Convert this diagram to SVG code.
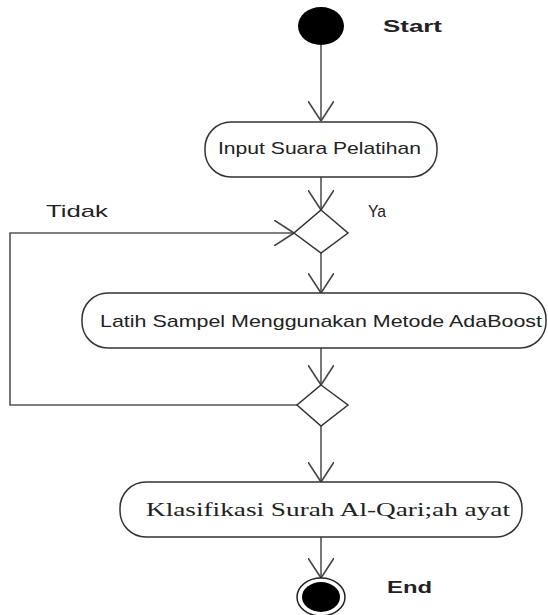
<svg xmlns="http://www.w3.org/2000/svg" width="548" height="615" viewBox="0 0 548 615">
<style>
.node{fill:#fff;stroke:#333;stroke-width:1.5}
.conn{fill:none;stroke:#555;stroke-width:1.6}
.lbl{font-family:"Liberation Sans",Arial,sans-serif;font-size:17px;fill:#222}
.bold{font-weight:bold}
.serif{font-family:"Liberation Serif","Times New Roman",serif;font-size:19px;fill:#222}
</style>
<defs>
<marker id="open" viewBox="0 0 20 26" refX="20" refY="13" markerWidth="20" markerHeight="26" markerUnits="userSpaceOnUse" orient="auto">
<path d="M0,0 L20,13 L0,26" fill="none" stroke="#444" stroke-width="1.6"/>
</marker>
</defs>
<g id="connectors">
<line class="conn" x1="321" y1="45" x2="321" y2="121" marker-end="url(#open)"/>
<line class="conn" x1="321" y1="177" x2="321" y2="210" marker-end="url(#open)"/>
<line class="conn" x1="321" y1="253" x2="321" y2="293" marker-end="url(#open)"/>
<line class="conn" x1="321" y1="348" x2="321" y2="385" marker-end="url(#open)"/>
<polyline class="conn" points="297,405 10,405 10,233 294,233" marker-end="url(#open)"/>
<line class="conn" x1="321" y1="426" x2="321" y2="482" marker-end="url(#open)"/>
<line class="conn" x1="321" y1="537" x2="321" y2="578" marker-end="url(#open)"/>
</g>
<g id="start">
<ellipse cx="321" cy="26" rx="23" ry="19" fill="#000"/>
<text class="lbl bold" x="383" y="32" textLength="59" lengthAdjust="spacingAndGlyphs">Start</text>
</g>
<g id="input">
<rect class="node" x="205" y="122" width="232" height="55" rx="26" ry="26"/>
<text class="lbl" x="218" y="154" textLength="203" lengthAdjust="spacingAndGlyphs">Input Suara Pelatihan</text>
</g>
<g id="decision1">
<polygon class="node" points="321,210 348,233 321,253 294,233"/>
<text class="lbl" x="46" y="217" textLength="62" lengthAdjust="spacingAndGlyphs">Tidak</text>
<text class="lbl" x="368" y="217" textLength="18" lengthAdjust="spacingAndGlyphs">Ya</text>
</g>
<g id="latih">
<rect class="node" x="82" y="293" width="464" height="55" rx="26" ry="26"/>
<text class="lbl" x="100" y="327" textLength="442" lengthAdjust="spacingAndGlyphs">Latih Sampel Menggunakan Metode AdaBoost</text>
</g>
<g id="decision2">
<polygon class="node" points="321,385 348,405 321,426 297,405"/>
</g>
<g id="klasifikasi">
<rect class="node" x="120" y="482" width="402" height="55" rx="26" ry="26"/>
<text class="serif" x="146" y="516" textLength="364" lengthAdjust="spacingAndGlyphs">Klasifikasi Surah Al-Qari;ah ayat</text>
</g>
<g id="end">
<ellipse cx="321" cy="597" rx="24" ry="19" fill="#fff" stroke="#222" stroke-width="1.5"/>
<ellipse cx="321" cy="597" rx="19" ry="15" fill="#000"/>
<text class="lbl bold" x="387" y="593" textLength="45" lengthAdjust="spacingAndGlyphs">End</text>
</g>
</svg>
